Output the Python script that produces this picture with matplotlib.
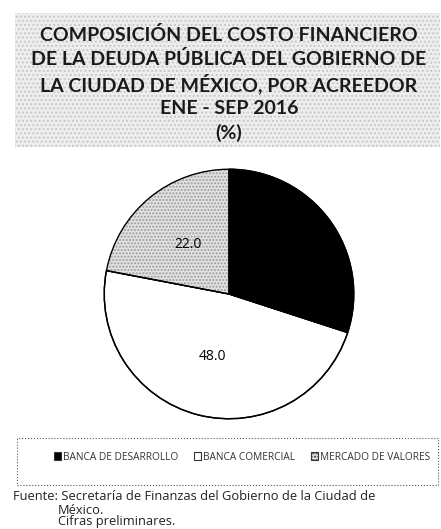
import matplotlib.pyplot as plt
from matplotlib.patches import Rectangle

title_lines = ["COMPOSICIÓN DEL COSTO FINANCIERO",
               "DE LA DEUDA PÚBLICA DEL GOBIERNO DE",
               "LA CIUDAD DE MÉXICO, POR ACREEDOR",
               "ENE - SEP 2016",
               "(%)"]
labels = ["BANCA DE DESARROLLO", "BANCA COMERCIAL", "MERCADO DE VALORES"]
values = [30.0, 48.0, 22.0]
colors = ["#000000", "#ffffff", "#e2e2e2"]
footer = ["Fuente: Secretaría de Finanzas del Gobierno de la Ciudad de",
          "México.",
          "Cifras preliminares."]

W, H = 441, 529
fig = plt.figure(figsize=(W / 100, H / 100), dpi=100)
fig.patch.set_facecolor("white")

# stippled title band
fig.patches.append(Rectangle((15 / W, 1 - 147 / H), 425 / W, 134 / H,
                             transform=fig.transFigure, facecolor="#eeeeee",
                             edgecolor="#c8c8c8", hatch="....", lw=0, zorder=0))
title_y = [35, 59, 84, 108, 133]
for line, y in zip(title_lines, title_y):
    fig.text(229 / W, 1 - y / H, line, ha="center", va="center",
             fontsize=14, fontweight="bold", family="Lato", color="#1a1a1a")

ax = fig.add_axes([(229 - 126) / W, 1 - 420 / H, 252 / W, 252 / H])
wedges, texts, autotexts = ax.pie(values, colors=colors, startangle=90,
                                  counterclock=False, autopct="%.1f",
                                  pctdistance=0.52,
                                  wedgeprops=dict(edgecolor="black", linewidth=1.0),
                                  textprops=dict(fontsize=10, family="Open Sans",
                                                 zorder=5))
wedges[2].set_hatch(".....")
wedges[2].set_edgecolor("#9a9a9a")
wedges[2].set_linewidth(0)
autotexts[0].set_color("black")
# outlines on top of the stippled slice
ax.pie(values, colors=["none"] * len(values), startangle=90, counterclock=False,
       wedgeprops=dict(edgecolor="black", linewidth=1.0, fill=False))
ax.set_xlim(-1.01, 1.01)
ax.set_ylim(-1.01, 1.01)
ax.set_aspect("equal")
ax.axis("off")

# dotted legend box
fig.patches.append(Rectangle((17 / W, 1 - 485 / H), 421 / W, 47 / H,
                             transform=fig.transFigure, facecolor="none",
                             edgecolor="#555555", linestyle=":", lw=0.8))
leg = fig.legend(wedges, labels, loc="center", bbox_to_anchor=(242 / W, 1 - 457 / H),
                 ncol=3, frameon=False, handlelength=0.7,
                 handleheight=0.7, handletextpad=0.15, columnspacing=1.6,
                 prop=dict(family="Open Sans", size=7.3))
for t in leg.get_texts():
    t.set_color("#333333")
for h in leg.legend_handles:
    h.set_edgecolor("#333333")
    h.set_linewidth(0.8)

footer_x = [13, 58, 58]
footer_y = [497, 510, 522]
for line, x, y in zip(footer, footer_x, footer_y):
    fig.text(x / W, 1 - y / H, line, ha="left", va="center",
             fontsize=9.3, family="Open Sans", color="#222222")

fig.savefig("out.png", dpi=100)
